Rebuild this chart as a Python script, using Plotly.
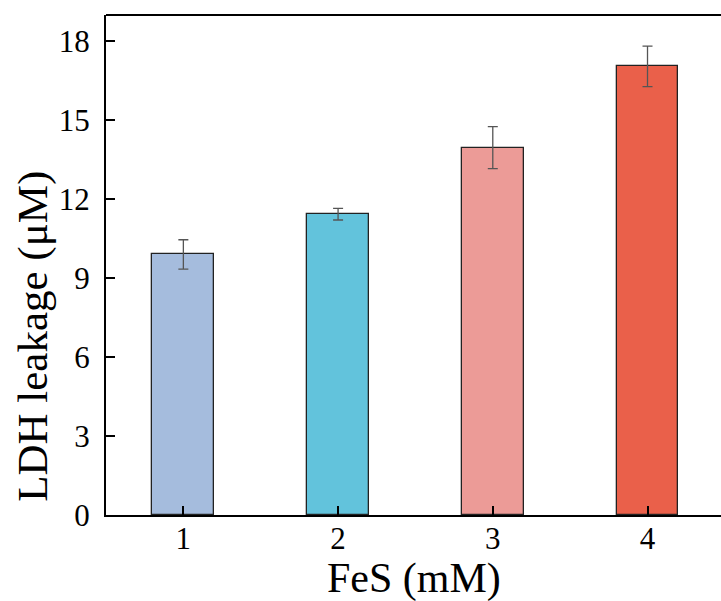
import plotly.graph_objects as go

categories = [1, 2, 3, 4]
values = [9.9, 11.43, 13.96, 17.05]
errors = [0.56, 0.22, 0.8, 0.77]
colors = ["#A5BCDD", "#62C3DC", "#EC9B97", "#EA604A"]
y_ticks = [0, 3, 6, 9, 12, 15, 18]
x_title = "FeS (mM)"
y_title = "LDH leakage (μM)"

font_family = "Liberation Serif"

fig = go.Figure()
fig.add_trace(go.Bar(
    x=categories, y=values, width=0.4,
    marker=dict(color=colors, line=dict(color="#222222", width=1.3)),
    error_y=dict(type="data", array=errors, visible=True,
                 color="#555555", thickness=1.3, width=5),
    showlegend=False,
))

# plot area spans page pixels x 106..721, y 15..515
fig.update_layout(
    width=721, height=601,
    margin=dict(l=106, r=0, t=15, b=86),
    paper_bgcolor="white", plot_bgcolor="white",
    font=dict(family=font_family, color="black"),
    bargap=0,
    annotations=[
        dict(text=x_title, xref="paper", yref="paper", x=0.5, y=-0.127,
             xanchor="center", yanchor="middle", showarrow=False,
             font=dict(size=42, family=font_family, color="black")),
        dict(text=y_title, xref="paper", yref="paper", x=-0.119, y=0.358,
             xanchor="center", yanchor="middle", showarrow=False, textangle=-90,
             font=dict(size=43, family=font_family, color="black")),
    ],
    shapes=[
        dict(type="line", xref="paper", yref="paper", x0=0, x1=1.02, y0=1, y1=1,
             line=dict(color="black", width=2)),
    ],
)
fig.update_xaxes(
    range=[0.5, 4.475], tickvals=categories, ticktext=[str(c) for c in categories],
    showline=True, linecolor="black", linewidth=2, mirror=False,
    ticks="inside", ticklen=9, tickwidth=2, tickcolor="black",
    showgrid=False, zeroline=False, automargin=False,
    ticklabelstandoff=-5,
    tickfont=dict(size=31, family=font_family),
)
fig.update_yaxes(
    range=[0, 19], tickvals=y_ticks,
    showline=True, linecolor="black", linewidth=2, mirror=False,
    ticks="inside", ticklen=9, tickwidth=2, tickcolor="black",
    showgrid=False, zeroline=False, automargin=False,
    ticklabelstandoff=8,
    tickfont=dict(size=31, family=font_family),
)
fig.write_html("out.html", config={"displayModeBar": False},
               post_script="document.body.style.margin='0';")
